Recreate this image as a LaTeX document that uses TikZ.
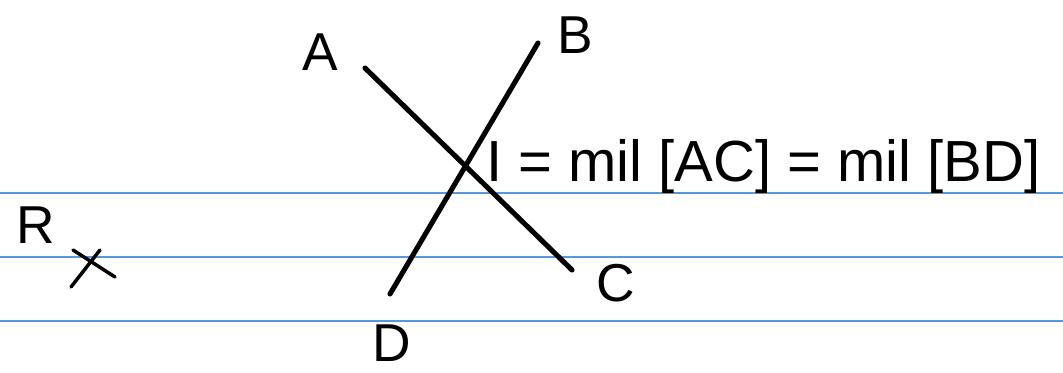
\documentclass[tikz,border=0pt]{standalone}
\usepackage{fontspec}
\setmainfont{Liberation Sans}
\begin{document}
\begin{tikzpicture}[x=0.75pt,y=-0.75pt,
  ruled/.style={draw={rgb,255:red,90;green,150;blue,220},line width=0.9pt},
  seg/.style={line width=3.8pt,line cap=round},
  lbl/.style={font=\fontsize{40}{44}\selectfont,inner sep=0pt,anchor=base,text depth=0pt},
  eq/.style={font=\fontsize{43.5}{48}\selectfont,inner sep=0pt,anchor=base west}]
\useasboundingbox (0,0) rectangle (1063,373);
\fill[white] (0,0) rectangle (1063,373);
\draw[ruled] (0,193) -- (1063,193);
\draw[ruled] (0,257) -- (1063,257);
\draw[ruled] (0,321) -- (1063,321);
\coordinate (a) at (365,68);
\coordinate (c) at (572,270);
\coordinate (b) at (538,43);
\coordinate (d) at (390,294);
\draw[seg] (a) -- (c);
\draw[seg] (b) -- (d);
\node[lbl] (A) at (320,71) {A};
\node[lbl] (B) at (575,54) {B};
\node[lbl] (C) at (616,302) {C};
\node[lbl] (D) at (392,362) {D};
\node[lbl] (R) at (36,244) {R};
\coordinate (xa) at (73,250);
\coordinate (xb) at (115,277);
\coordinate (xc) at (100,250);
\coordinate (xd) at (71,287);
\draw[line width=2.6pt,line cap=round] (xa) -- (xb);
\draw[line width=2.6pt,line cap=round] (xc) -- (xd);
\node[eq] (eqn) at (486,182) {I = mil [AC] = mil [BD]};
\end{tikzpicture}
\end{document}
